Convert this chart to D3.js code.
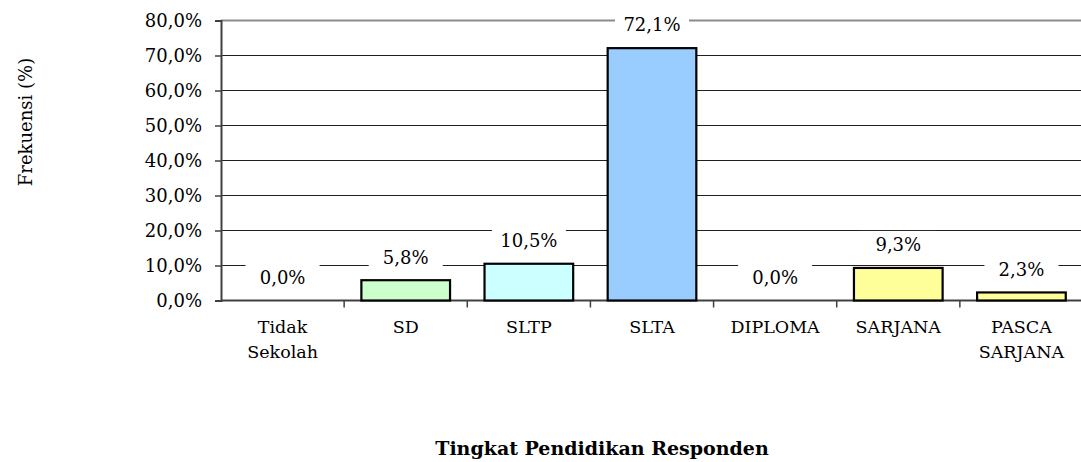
<!DOCTYPE html>
<html>
<head>
<meta charset="utf-8">
<script src="https://cdn.jsdelivr.net/npm/d3@7"></script>
<style>
  body { margin: 0; background: #fff; }
  text { font-family: "DejaVu Serif", serif; fill: #000; }
</style>
</head>
<body>
<div class="chart"></div>
<script>
// data
const categories = ['Tidak Sekolah', 'SD', 'SLTP', 'SLTA', 'DIPLOMA', 'SARJANA', 'PASCA SARJANA'];
const catLines = [['Tidak', 'Sekolah'], ['SD'], ['SLTP'], ['SLTA'], ['DIPLOMA'], ['SARJANA'], ['PASCA', 'SARJANA']];
const values = [0.0, 5.8, 10.5, 72.1, 0.0, 9.3, 2.3];
const barColors = ['#CCFFCC', '#CCFFCC', '#CCFFFF', '#99CCFF', '#FFFF99', '#FFFF99', '#FFFF99'];
const yTicks = [0, 10, 20, 30, 40, 50, 60, 70, 80];

const width = 1081;
const height = 462;
const plotLeft = 221, plotRight = 1083, plotTop = 20.5, plotBottom = 300.5;

const svg = d3.select('.chart')
    .append('svg')
    .attr('width', width)
    .attr('height', height);

const x = d3.scaleBand()
    .domain(categories)
    .range([plotLeft, plotRight])
    .paddingInner(0.28)
    .paddingOuter(0.14);

const y = d3.scaleLinear()
    .domain([0, 80])
    .range([plotBottom, plotTop]);

const fmt = v => d3.format('.1f')(v).replace('.', ',') + '%';

// gridlines
svg.selectAll('.grid')
    .data(yTicks.filter(d => d > 0))
    .enter()
    .append('line')
    .attr('x1', plotLeft)
    .attr('x2', width)
    .attr('y1', d => y(d))
    .attr('y2', d => y(d))
    .attr('stroke', d => d == 80 ? '#8c8c8c' : '#202020')
    .attr('stroke-width', d => d == 80 ? 2 : 1);

// y axis
const yAxis = svg.append('g')
    .attr('transform', `translate(${plotLeft},0)`)
    .call(d3.axisLeft(y).tickValues(yTicks).tickSize(6).tickFormat(fmt));
yAxis.select('.domain').attr('stroke', '#404040').attr('stroke-width', 2);
yAxis.selectAll('.tick line').attr('stroke', '#404040').attr('stroke-width', 1.5);
yAxis.selectAll('.tick text')
    .attr('x', -19)
    .style('font-family', '"DejaVu Serif", serif')
    .style('font-size', '18px')
    .attr('fill', '#000');

// x axis line and category ticks
const step = (plotRight - plotLeft) / categories.length;
svg.append('line')
    .attr('x1', plotLeft).attr('x2', width)
    .attr('y1', plotBottom).attr('y2', plotBottom)
    .attr('stroke', '#404040').attr('stroke-width', 2);
svg.selectAll('.xtick')
    .data(d3.range(1, categories.length))
    .enter()
    .append('line')
    .attr('x1', d => plotLeft + d * step)
    .attr('x2', d => plotLeft + d * step)
    .attr('y1', plotBottom)
    .attr('y2', plotBottom + 7)
    .attr('stroke', '#404040')
    .attr('stroke-width', 1.5);

// bars
svg.selectAll('.bar')
    .data(values)
    .enter()
    .append('rect')
    .attr('x', (d, i) => x(categories[i]))
    .attr('y', d => y(d))
    .attr('width', x.bandwidth())
    .attr('height', d => plotBottom - y(d))
    .attr('fill', (d, i) => barColors[i])
    .attr('stroke', d => d > 0 ? '#000' : 'none')
    .attr('stroke-width', 2.2);

// value labels with white boxes
const labels = svg.selectAll('.vlabel')
    .data(values)
    .enter()
    .append('g')
    .attr('transform', (d, i) => `translate(${x(categories[i]) + x.bandwidth() / 2},${y(d) - 23})`);
labels.append('rect')
    .attr('x', -37)
    .attr('y', -14)
    .attr('width', 74)
    .attr('height', 28)
    .attr('fill', '#fff');
labels.append('text')
    .attr('text-anchor', 'middle')
    .attr('dy', '0.35em')
    .style('font-size', '18px')
    .text(d => fmt(d));

// category labels
const cats = svg.selectAll('.cat')
    .data(catLines)
    .enter()
    .append('text')
    .attr('text-anchor', 'middle')
    .style('font-size', '17.5px')
    .attr('transform', (d, i) => `translate(${x(categories[i]) + x.bandwidth() / 2},333)`);
cats.selectAll('tspan')
    .data(d => d)
    .enter()
    .append('tspan')
    .attr('x', 0)
    .attr('dy', (d, i) => i == 0 ? 0 : 25)
    .text(d => d);

// axis titles
svg.append('text')
    .attr('transform', 'translate(32,122) rotate(-90)')
    .attr('text-anchor', 'middle')
    .style('font-size', '18px')
    .text('Frekuensi (%)');

svg.append('text')
    .attr('x', 602)
    .attr('y', 455)
    .attr('text-anchor', 'middle')
    .style('font-size', '19px')
    .style('font-weight', 'bold')
    .text('Tingkat Pendidikan Responden');
</script>
</body>
</html>
